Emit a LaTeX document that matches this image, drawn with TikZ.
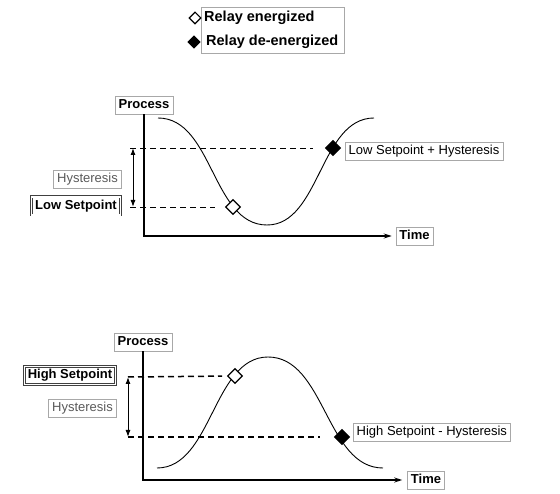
\documentclass[tikz,border=0pt]{standalone}
\usepackage{fontspec}
\setmainfont{Liberation Sans}
\usetikzlibrary{arrows.meta, positioning, fit, shapes.geometric}
\definecolor{boxgray}{HTML}{A8A8A8}
\definecolor{txtgray}{HTML}{5A5A5A}
\tikzset{
  lblbox/.style={draw=boxgray,fill=white,inner xsep=3.5pt,inner ysep=3pt,text height=9.5pt,text depth=2.7pt,font=\fontsize{13}{15}\selectfont},
  axlbl/.style={lblbox,font=\fontsize{13}{15}\selectfont\bfseries},
  setbox/.style={axlbl,draw=black!75,double=white,double distance=1.4pt,line width=0.7pt},
  gaplbl/.style={lblbox,text=txtgray},
  keytxt/.style={anchor=west,inner sep=0pt,font=\fontsize{14.5}{16}\selectfont\bfseries},
  onmark/.style={diamond,draw=black,fill=white,line width=1.1pt,minimum size=15pt,inner sep=0pt},
  offmark/.style={onmark,fill=black},
  axisline/.style={-{Stealth[length=8pt,width=5pt]},line width=1.2pt},
  lvlA/.style={dash pattern=on 6pt off 4pt,line width=0.7pt},
  lvlB/.style={dash pattern=on 6pt off 4pt,line width=1.5pt},
  hyst/.style={{Latex[length=7pt,width=5pt]}-{Latex[length=7pt,width=5pt]},line width=1pt},
  wave/.style={line width=0.9pt},
}

\begin{document}
\begin{tikzpicture}[x=1pt,y=-1pt]
  \useasboundingbox (0,0) rectangle (560,494);
  % legend
  \node[draw=boxgray,minimum width=143pt,minimum height=46pt] (nLegend) at (272.5,30) {};
  \node[keytxt] (nEnerg) at (204,18) {Relay energized};
  \node[keytxt] (nDeEnerg) at (206,42) {Relay de-energized};
  \node[onmark,minimum size=12pt] (nKeyOn) at (195,18) {};
  \node[offmark,minimum size=12pt] (nKeyOff) at (194,42) {};

  % low setpoint chart
  \draw[wave] (158,118) .. controls (213,118) and (212,225) .. (267,225)
    .. controls (320,225) and (320,118) .. (374,118);
  \node[axlbl] (nProcA) at (144,105) {Process};
  \node[axlbl] (nTimeA) at (414.5,236) {Time};
  \draw[axisline,shorten >=4pt] (nProcA.south) |- (nTimeA.west);
  \coordinate (hiA) at (130,148);
  \coordinate (loA) at (130,207);
  \node[offmark] (nOffA) at (333,148) {};
  \node[onmark] (nOnA) at (233,207) {};
  \draw[lvlA,shorten >=12pt] (hiA) -- (nOffA);
  \draw[lvlA,shorten >=10pt] (loA) -- (nOnA);
  \draw[hyst] ([xshift=3pt]hiA) -- ([xshift=3pt]loA);
  \node[gaplbl] (nHystA) at (87.5,179.5) {Hysteresis};
  \node[setbox] (nLowSP) at (76,206) {Low Setpoint};
  \node[lblbox,anchor=west] (nLowHyst) at (345,151) {Low Setpoint + Hysteresis};

  % high setpoint chart
  \draw[wave] (157,468) .. controls (212,468) and (213,357) .. (268,357)
    .. controls (325,357) and (326,468) .. (383,468);
  \node[axlbl] (nProcB) at (143,342) {Process};
  \node[axlbl] (nTimeB) at (426,480) {Time};
  \draw[axisline,shorten >=5pt] (nProcB.south) |- (nTimeB.west);
  \coordinate (hiB) at (128,377);
  \coordinate (loB) at (128,437);
  \node[onmark] (nOnB) at (235,376) {};
  \node[offmark] (nOffB) at (342,437) {};
  \draw[lvlB,shorten >=5pt] (hiB) -- (nOnB);
  \draw[lvlB,shorten >=14pt] (loB) -- (nOffB);
  \draw[hyst] (hiB) -- (loB);
  \node[setbox] (nHighSP) at (70,375.5) {High Setpoint};
  \node[gaplbl] (nHystB) at (82.5,408.5) {Hysteresis};
  \node[lblbox,anchor=west] (nHighHyst) at (353,432.5) {High Setpoint - Hysteresis};
\end{tikzpicture}
\end{document}
